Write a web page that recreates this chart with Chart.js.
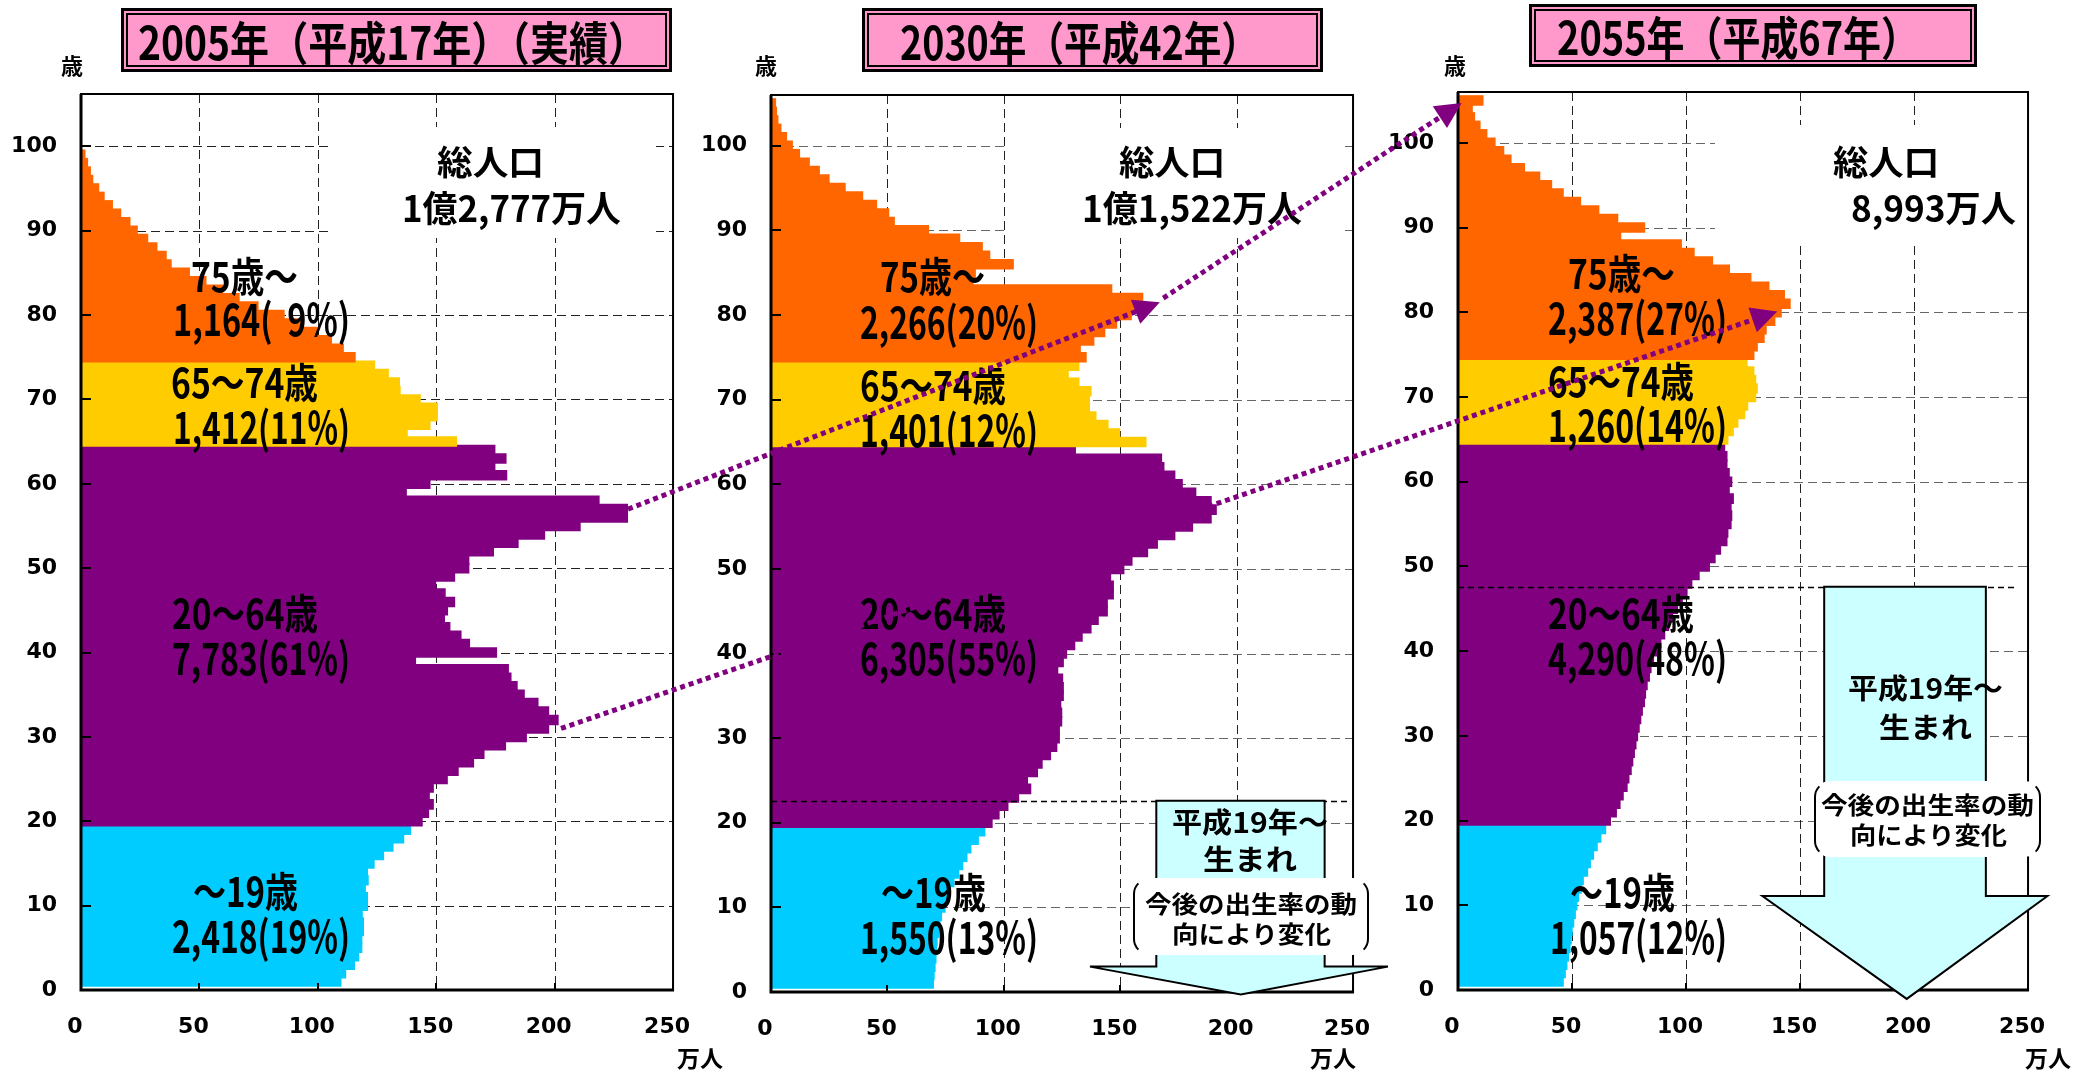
<!DOCTYPE html>
<html>
<head>
<meta charset="utf-8">
<script src="https://cdn.jsdelivr.net/npm/chart.js@4.4.1/dist/chart.umd.min.js"></script>
<style>
body { margin: 0; background: #fff; }
#wrap { position: relative; width: 2075px; height: 1073px; overflow: hidden; }
#wrap canvas { position: absolute; top: 0; }
.t { position: absolute; white-space: pre; font-family: "Noto Sans CJK JP"; font-weight: 700; color: #000; line-height: 1; transform-origin: 0 50%; }
.title { position: absolute; background: #ff99cc; border: 3px solid #000; box-sizing: border-box; }
.title div { position: absolute; left: 2px; top: 2px; right: 2px; bottom: 2px; border: 2px solid #000; }
.bubble { position: absolute; background: #fff; border: 2px solid #000; border-top-color: transparent; border-bottom-color: transparent; border-radius: 16px; box-sizing: border-box; }
</style>
</head>
<body>
<div id="wrap"></div>
<script>
// ages 1..105 (one bar per age, 万人)
var ages = [1,2,3,4,5,6,7,8,9,10,11,12,13,14,15,16,17,18,19,20,
  21,22,23,24,25,26,27,28,29,30,31,32,33,34,35,36,37,38,39,40,
  41,42,43,44,45,46,47,48,49,50,51,52,53,54,55,56,57,58,59,60,
  61,62,63,64,65,66,67,68,69,70,71,72,73,74,75,76,77,78,79,80,
  81,82,83,84,85,86,87,88,89,90,91,92,93,94,95,96,97,98,99,100,
  101,102,103,104,105];

var pop2005 = [110,112,115.7,117.5,118.8,118.8,119.5,119.5,119,121.2,
  121.2,120.3,121.5,121.2,124,128,132,136.5,139.4,144.3,
  147,149,147.3,149,154.9,159.5,166,170.4,179.5,188.3,
  197.7,201.7,197.7,193.2,187.4,184.4,181.8,180.7,141.5,175.7,
  164.3,160.7,156,153.7,155,158,154,150,158,164,
  164,174.4,184.8,196,211,231,231,219,137.6,147.6,
  180,175,179.7,175,158.8,138,147.6,150.7,150.7,143.5,
  135,134.7,130,124.2,116,111,106,100,93,86,
  75,67,60,53,46,38.3,36.2,32.3,28.4,24,
  20.9,17,13.5,10,7.7,5.2,4.2,3,1.9,0,
  0,0,0,0,0];

var pop2030 = [70,70.3,70.7,71.1,71.3,71.6,72.2,72.8,73.5,75,
  75.8,77.3,78.8,80.9,82.6,84.4,86.1,89.3,92.1,95.2,
  98.2,102,106.6,111.8,110.4,114.7,116.7,120.3,123,124.1,
  124.1,125.1,125.1,124.7,125.8,125.8,125.5,123.4,125.8,127.2,
  130.7,133.9,137.7,140.8,144.7,144.7,147.3,147.3,146.1,151.8,
  155.3,162,166.2,173.7,181.3,189.3,191.5,189.3,182.7,176.9,
  173.7,169,168,131,161.3,150,145,139.8,137,137,
  137.7,132.5,127.9,132.5,135.6,133.1,138.9,143.6,148.7,155,
  160,159.9,146.6,87,88,104.3,94.2,91,81.3,67.9,
  53.2,50.8,45.6,39.6,32.1,25.2,21,16.7,12.5,9.4,
  6.9,4.5,3.2,2.6,2.2];

var pop2055 = [46.4,47.3,48,48.7,49.4,49.9,50.3,51,51.7,52.4,
  53.1,54.3,55.2,57.1,58.3,59.7,61.3,62.9,65,67.1,
  69.7,71.3,72.7,74.4,75.2,76.2,76.9,77.6,78.3,79,
  79.7,80.4,81.1,82,82.5,83.2,84.2,84.9,86,87.4,
  89.2,90.9,92.6,94.4,96.5,98.6,100.7,102.8,106,110.5,
  113,115.4,118.2,118.6,120,120.3,120,121,119.2,120.3,
  119.2,118.2,118.2,117.2,118.6,121,123,126,127.3,130.8,
  131.5,130.8,130,127,130,131.5,134.5,135.4,139.2,142,
  145.9,143.4,136.6,128.7,119.3,111.9,103.8,98.2,71.6,82.1,
  70.3,62,54,46.4,41.3,36.1,29.4,23.5,20.3,16.5,
  12.9,9.9,7.5,6.5,11.2];

var xTicks = [0, 50, 100, 150, 200, 250];
var yTicks = [0, 10, 20, 30, 40, 50, 60, 70, 80, 90, 100];

var titles = ['2005年（平成17年）（実績）', '2030年（平成42年）', '2055年（平成67年）'];
var totals = ['1億2,777万人', '1億1,522万人', '8,993万人'];
var groupNames = ['75歳〜', '65〜74歳', '20〜64歳', '〜19歳'];
var groupTotals = [
  ['1,164(  9%)', '1,412(11%)', '7,783(61%)', '2,418(19%)'],
  ['2,266(20%)', '1,401(12%)', '6,305(55%)', '1,550(13%)'],
  ['2,387(27%)', '1,260(14%)', '4,290(48%)', '1,057(12%)']
];

var colors = { cyan: '#00CCFF', purple: '#800080', yellow: '#FFCC00', orange: '#FF6600' };
function barColor(age) {
  if (age <= 19) return colors.cyan;
  if (age <= 64) return colors.purple;
  if (age <= 74) return colors.yellow;
  return colors.orange;
}

var wrap = document.getElementById('wrap');
var W = 2075, H = 1073;

var panels = [
  { cl: 0, cw: 720, plot: { l: 81, t: 94, r: 679, b: 990 }, yMax: 106.2, values: pop2005,
    mask: [328, 127, 656, 238], hGrid: '#222', vGrid: '#222' },
  { cl: 690, cw: 710, plot: { l: 771, t: 95, r: 1365, b: 992 }, yMax: 106.0, values: pop2030,
    mask: [1009, 128, 1340, 238], hGrid: '#666', vGrid: '#222' },
  { cl: 1380, cw: 695, plot: { l: 1458, t: 92, r: 2056, b: 990 }, yMax: 106.0, values: pop2055,
    mask: [1715, 125, 2052, 245], hGrid: '#666', vGrid: '#222' }
];

var tickFont = { family: 'DejaVu Sans', weight: 'bold', size: 22 };

function framePlugin(p) {
  return {
    id: 'frame',
    beforeDatasetsDraw: function(chart) {
      var ctx = chart.ctx, a = chart.chartArea, sx = chart.scales.x, sy = chart.scales.y;
      ctx.save();
      ctx.lineWidth = 1;
      ctx.setLineDash([9, 5]);
      ctx.strokeStyle = p.hGrid;
      yTicks.forEach(function(v) {
        if (v === 0) return;
        var py = Math.round(sy.getPixelForValue(v)) + 0.5;
        ctx.beginPath(); ctx.moveTo(a.left, py); ctx.lineTo(a.right, py); ctx.stroke();
      });
      ctx.strokeStyle = p.vGrid;
      xTicks.forEach(function(v) {
        if (v === 0 || v === 250) return;
        var px = Math.round(sx.getPixelForValue(v)) + 0.5;
        ctx.beginPath(); ctx.moveTo(px, a.top); ctx.lineTo(px, a.bottom); ctx.stroke();
      });
      ctx.restore();
      // white box behind the total population text
      ctx.fillStyle = '#fff';
      ctx.fillRect(p.mask[0] - p.cl, p.mask[1], p.mask[2] - p.mask[0], p.mask[3] - p.mask[1]);
    },
    afterDatasetsDraw: function(chart) {
      var ctx = chart.ctx, a = chart.chartArea, sx = chart.scales.x, sy = chart.scales.y;
      ctx.save();
      ctx.strokeStyle = '#000';
      ctx.lineWidth = 2;
      ctx.strokeRect(a.left, a.top, a.right - a.left, a.bottom - a.top);
      ctx.lineWidth = 3;
      ctx.beginPath();
      ctx.moveTo(a.left, a.top); ctx.lineTo(a.left, a.bottom); ctx.lineTo(a.right + 1, a.bottom);
      ctx.stroke();
      ctx.lineWidth = 2;
      yTicks.forEach(function(v) {
        var py = Math.round(sy.getPixelForValue(v));
        ctx.beginPath(); ctx.moveTo(a.left, py); ctx.lineTo(a.left + 10, py); ctx.stroke();
      });
      xTicks.forEach(function(v) {
        var px = Math.round(sx.getPixelForValue(v));
        ctx.beginPath(); ctx.moveTo(px, a.bottom); ctx.lineTo(px, a.bottom - 7); ctx.stroke();
      });
      ctx.restore();
    }
  };
}

var charts = panels.map(function(p) {
  var cv = document.createElement('canvas');
  cv.width = p.cw; cv.height = H;
  cv.style.left = p.cl + 'px';
  cv.style.width = p.cw + 'px'; cv.style.height = H + 'px';
  wrap.appendChild(cv);
  return new Chart(cv, {
    type: 'bar',
    data: {
      datasets: [{
        data: ages.map(function(a, i) { return { x: p.values[i], y: a }; }),
        backgroundColor: function(c) { return barColor(c.raw ? c.raw.y : 0); },
        borderWidth: 0,
        barPercentage: 1.25,   // overlap >1px so antialiased edges leave no seams
        categoryPercentage: 1
      }]
    },
    options: {
      indexAxis: 'y',
      responsive: false,
      animation: false,
      devicePixelRatio: 1,
      layout: { padding: { top: p.plot.t, right: p.cl + p.cw - p.plot.r, left: 0, bottom: 0 } },
      plugins: { legend: { display: false }, tooltip: { enabled: false } },
      scales: {
        x: {
          type: 'linear', min: 0, max: 250, position: 'bottom',
          grid: { display: false, drawTicks: false }, border: { display: false },
          afterBuildTicks: function(s) { s.ticks = xTicks.map(function(v) { return { value: v }; }); },
          afterFit: function(s) { s.height = H - p.plot.b; },
          ticks: { font: tickFont, color: '#000', padding: 24, labelOffset: -6, maxRotation: 0, autoSkip: false }
        },
        y: {
          type: 'linear', min: 0, max: p.yMax, offset: false,
          grid: { display: false, drawTicks: false }, border: { display: false },
          afterBuildTicks: function(s) { s.ticks = yTicks.map(function(v) { return { value: v }; }); },
          afterFit: function(s) { s.width = p.plot.l - p.cl; },
          ticks: { font: tickFont, color: '#000', padding: 24, autoSkip: false }
        }
      }
    },
    plugins: [framePlugin(p)]
  });
});

function pt(i, v, age) {
  var c = charts[i];
  return { x: c.scales.x.getPixelForValue(v) + panels[i].cl, y: c.scales.y.getPixelForValue(age) };
}

// layer for the cyan "born after H19" arrows and cohort lines
var under = document.createElement('canvas');
under.width = W; under.height = H; under.style.left = '0px';
wrap.appendChild(under);
var uc = under.getContext('2d');

function cohortLine(i, age, vEnd) {
  var a = pt(i, 0, age), b = pt(i, vEnd, age);
  uc.save();
  uc.strokeStyle = '#000'; uc.lineWidth = 1.5; uc.setLineDash([6, 4]);
  uc.beginPath(); uc.moveTo(a.x, Math.round(a.y) + 0.5); uc.lineTo(b.x, Math.round(a.y) + 0.5); uc.stroke();
  uc.restore();
}
function bigArrow(i, s1, s2, topAge, baseAge, h1, h2, tipV, tipAge) {
  var p = [pt(i, s1, topAge), pt(i, s2, topAge), pt(i, s2, baseAge), pt(i, h2, baseAge),
           pt(i, tipV, tipAge), pt(i, h1, baseAge), pt(i, s1, baseAge)];
  uc.save();
  uc.beginPath();
  p.forEach(function(q, k) { if (k) uc.lineTo(q.x, q.y); else uc.moveTo(q.x, q.y); });
  uc.closePath();
  uc.fillStyle = '#CCFFFF'; uc.fill();
  uc.strokeStyle = '#000'; uc.lineWidth = 2; uc.stroke();
  uc.restore();
}
cohortLine(1, 22.6, 248);
cohortLine(2, 47.6, 245);
bigArrow(1, 165.5, 237.8, 22.6, 3.0, 137, 265, 201.8, -0.3);
bigArrow(2, 160.6, 231.5, 47.6, 11.1, 133.5, 258.5, 196.8, -1.05);

// html text
function box(cls, l, t, w, h) {
  var d = document.createElement('div');
  d.className = cls;
  d.style.left = l + 'px'; d.style.top = t + 'px';
  d.style.width = w + 'px'; d.style.height = h + 'px';
  wrap.appendChild(d);
  return d;
}
function label(txt, left, cy, w, size) {
  var d = document.createElement('div');
  d.className = 't';
  d.textContent = txt;
  d.style.fontSize = size + 'px';
  d.style.left = left + 'px';
  d.style.top = (cy - 0.56 * size) + 'px';
  wrap.appendChild(d);
  if (w) {
    var nat = d.getBoundingClientRect().width;
    d.style.transform = 'scaleX(' + (w / nat) + ')';
  }
  return d;
}

box('title', 121, 8, 551, 64).appendChild(document.createElement('div'));
box('title', 862, 8, 461, 64).appendChild(document.createElement('div'));
box('title', 1529, 4, 448, 63).appendChild(document.createElement('div'));
label(titles[0], 138, 43, 509, 46);
label(titles[1], 900, 43, 359, 46);
label(titles[2], 1557, 38, 362, 46);

[72, 766, 1455].forEach(function(x) { label('歳', x - 11, 65, 22, 22); });
[700, 1333, 2048].forEach(function(x) { label('万人', x - 23, 1059, 46, 23); });

label('総人口', 437, 163, 107, 34);
label(totals[0], 402, 208, 219, 36);
label('総人口', 1119, 163, 106, 34);
label(totals[1], 1082, 208, 220, 36);
label('総人口', 1833, 163, 106, 34);
label(totals[2], 1851, 208, 165, 36);

// group labels: [nameLeft, nameWidth, valueLeft, valueWidth, nameCy, valueCy] per group
var groupPos = [
  [[191, 107, 173, 177, 276.5, 320], [171, 147, 173, 177, 382.5, 427.5], [172, 146, 172, 178, 613.5, 658.5], [193, 105, 172, 178, 891.5, 936.5]],
  [[880, 105, 860, 178, 277, 322.5], [860, 146, 860, 178, 386, 431], [860, 146, 860, 178, 614, 658.5], [881, 105, 860, 178, 892.5, 937.5]],
  [[1568, 107, 1548, 179, 274, 319], [1548, 146, 1548, 179, 382, 426], [1548, 146, 1548, 179, 614, 658.5], [1570, 105, 1550, 177, 892.5, 937.5]]
];
groupPos.forEach(function(panel, i) {
  panel.forEach(function(g, k) {
    label(groupNames[k], g[0], g[4], g[1], 41);
    label(groupTotals[i][k], g[2], g[5], g[3], 44);
  });
});

label('平成19年〜', 1172, 822.5, 156, 28);
label('生まれ', 1203, 860, 94, 28);
box('bubble', 1133, 878, 236, 77);
label('今後の出生率の動', 1145, 904, 212, 24);
label('向により変化', 1172, 934, 159, 24);

label('平成19年〜', 1848, 689, 155, 28);
label('生まれ', 1879, 727.5, 93, 28);
box('bubble', 1814, 781, 227, 76);
label('今後の出生率の動', 1821, 805, 213, 24);
label('向により変化', 1850, 835, 157, 24);

// dotted cohort arrows on top
var over = document.createElement('canvas');
over.width = W; over.height = H; over.style.left = '0px';
wrap.appendChild(over);
var oc = over.getContext('2d');
function dotted(a, b, head) {
  var ang = Math.atan2(b.y - a.y, b.x - a.x), c = Math.cos(ang), s = Math.sin(ang);
  var hl = head ? 24 : 0;
  oc.save();
  oc.strokeStyle = colors.purple; oc.lineWidth = 5; oc.setLineDash([5, 4]);
  oc.beginPath(); oc.moveTo(a.x, a.y); oc.lineTo(b.x - hl * c, b.y - hl * s); oc.stroke();
  if (head) {
    oc.fillStyle = colors.purple;
    oc.beginPath();
    oc.moveTo(b.x, b.y);
    oc.lineTo(b.x - 26 * c + 13 * s, b.y - 26 * s - 13 * c);
    oc.lineTo(b.x - 26 * c - 13 * s, b.y - 26 * s + 13 * c);
    oc.closePath(); oc.fill();
  }
  oc.restore();
}
dotted(pt(0, 231, 57), pt(1, 167, 81.5), true);
dotted(pt(1, 168.5, 82), pt(2, 1.6, 104.7), true);
dotted(pt(0, 202.7, 31), pt(2, 140, 80.1), true);
</script>
</body>
</html>
